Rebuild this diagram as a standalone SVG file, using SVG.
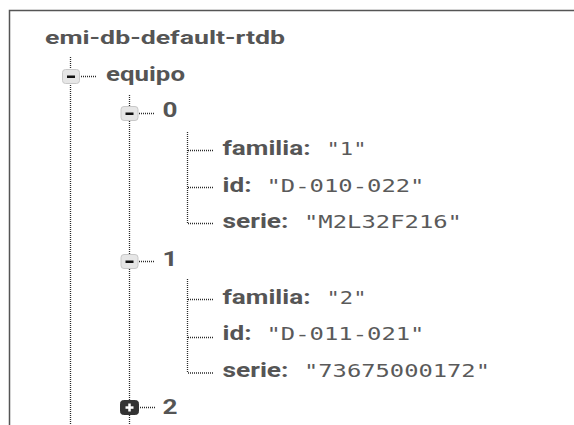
<svg xmlns="http://www.w3.org/2000/svg" width="574" height="425" viewBox="0 0 574 425">
  <style>
    .frame { fill: none; stroke: #555; stroke-width: 1.5; }
    .dot { fill: none; stroke: #2a2a2a; stroke-width: 1.3; stroke-dasharray: 1 1; }
    .key { font-family: Roboto, "Liberation Sans", sans-serif; font-weight: bold; font-size: 19.5px; fill: #555; }
    .title { font-family: Roboto, "Liberation Sans", sans-serif; font-weight: bold; font-size: 17.5px; fill: #555; }
    .val { font-family: "DejaVu Sans Mono", "Liberation Mono", monospace; font-size: 18px; fill: #5a5a5a; }
    .open { fill: #e6e6e6; stroke: #c8c8c8; stroke-width: 1; }
    .closed { fill: #333; stroke: #333; stroke-width: 1; }
    .minus { fill: #111; }
    .plus { fill: #fff; }
  </style>

  <!-- panel frame -->
  <path class="frame" d="M9.5,425 V10.5 H574"/>

  <!-- tree guide lines -->
  <g id="connectors">
    <line class="dot" x1="70.5" y1="57" x2="70.5" y2="425"/>
    <line class="dot" x1="129.5" y1="95" x2="129.5" y2="425"/>
    <line class="dot" x1="81" y1="76.5" x2="97" y2="76.5"/>
    <line class="dot" x1="139" y1="113.5" x2="155" y2="113.5"/>
    <line class="dot" x1="139" y1="261.5" x2="155" y2="261.5"/>
    <line class="dot" x1="140" y1="407.5" x2="155" y2="407.5"/>
    <!-- children of 0 -->
    <line class="dot" x1="187.5" y1="132" x2="187.5" y2="224"/>
    <line class="dot" x1="188" y1="150.5" x2="213" y2="150.5"/>
    <line class="dot" x1="188" y1="187.5" x2="213" y2="187.5"/>
    <line class="dot" x1="188" y1="223.5" x2="213" y2="223.5"/>
    <!-- children of 1 -->
    <line class="dot" x1="187.5" y1="279" x2="187.5" y2="373"/>
    <line class="dot" x1="188" y1="299.5" x2="213" y2="299.5"/>
    <line class="dot" x1="188" y1="337.5" x2="213" y2="337.5"/>
    <line class="dot" x1="188" y1="373" x2="213" y2="373"/>
  </g>

  <g id="root">
    <text class="title" x="45" y="43.5" textLength="240" lengthAdjust="spacingAndGlyphs">emi-db-default-rtdb</text>
  </g>

  <g id="equipo">
    <rect class="open" x="62.5" y="69.5" width="17" height="14" rx="3"/>
    <rect class="minus" x="67" y="75.5" width="8" height="2.5"/>
    <text class="key" x="106" y="80.5" textLength="79" lengthAdjust="spacingAndGlyphs">equipo</text>
  </g>

  <g id="item-0">
    <rect class="open" x="121" y="106.5" width="17" height="14" rx="3"/>
    <rect class="minus" x="125.5" y="112.5" width="8" height="2.5"/>
    <text class="key" x="162.5" y="117" textLength="15" lengthAdjust="spacingAndGlyphs">0</text>
  </g>

  <g id="item-0-familia">
    <text class="key" x="222.5" y="155" textLength="88" lengthAdjust="spacingAndGlyphs">familia:</text>
    <text class="val" x="326.5" y="155" textLength="40" lengthAdjust="spacingAndGlyphs">"1"</text>
  </g>
  <g id="item-0-id">
    <text class="key" x="222.5" y="192" textLength="29" lengthAdjust="spacingAndGlyphs">id:</text>
    <text class="val" x="266.5" y="192" textLength="158" lengthAdjust="spacingAndGlyphs">"D-010-022"</text>
  </g>
  <g id="item-0-serie">
    <text class="key" x="222.5" y="228" textLength="66" lengthAdjust="spacingAndGlyphs">serie:</text>
    <text class="val" x="304" y="228" textLength="158" lengthAdjust="spacingAndGlyphs">"M2L32F216"</text>
  </g>

  <g id="item-1">
    <rect class="open" x="121" y="254.5" width="17" height="14" rx="3"/>
    <rect class="minus" x="125.5" y="260.5" width="8" height="2.5"/>
    <text class="key" x="162.5" y="265.5" textLength="15" lengthAdjust="spacingAndGlyphs">1</text>
  </g>

  <g id="item-1-familia">
    <text class="key" x="222.5" y="303.5" textLength="88" lengthAdjust="spacingAndGlyphs">familia:</text>
    <text class="val" x="326.5" y="303.5" textLength="40" lengthAdjust="spacingAndGlyphs">"2"</text>
  </g>
  <g id="item-1-id">
    <text class="key" x="222.5" y="340" textLength="29" lengthAdjust="spacingAndGlyphs">id:</text>
    <text class="val" x="266.5" y="340" textLength="158" lengthAdjust="spacingAndGlyphs">"D-011-021"</text>
  </g>
  <g id="item-1-serie">
    <text class="key" x="222.5" y="377" textLength="66" lengthAdjust="spacingAndGlyphs">serie:</text>
    <text class="val" x="304" y="377" textLength="186" lengthAdjust="spacingAndGlyphs">"73675000172"</text>
  </g>

  <g id="item-2">
    <rect class="closed" x="120.5" y="400.5" width="18" height="14" rx="3"/>
    <rect class="plus" x="125.5" y="406.3" width="8" height="2.5"/>
    <rect class="plus" x="128.25" y="403.5" width="2.5" height="8"/>
    <text class="key" x="162.5" y="413.5" textLength="15" lengthAdjust="spacingAndGlyphs">2</text>
  </g>
</svg>
